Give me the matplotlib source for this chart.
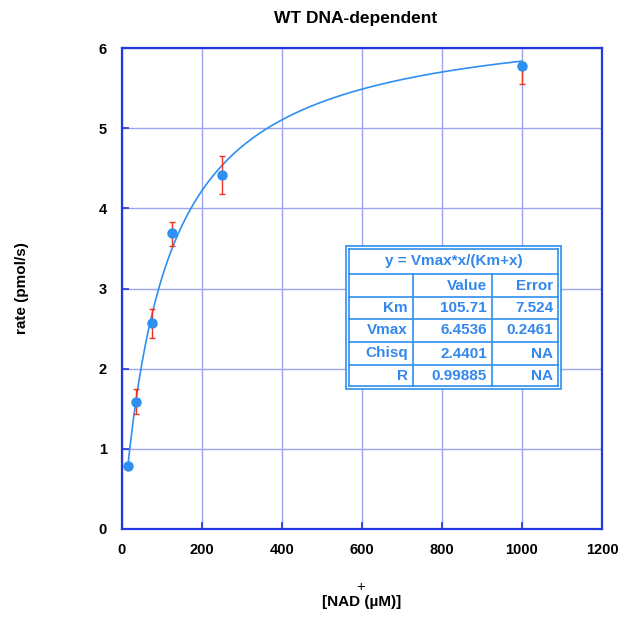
import numpy as np
import matplotlib.pyplot as plt
from matplotlib.lines import Line2D
from matplotlib.patches import Rectangle

plt.rcParams['font.family'] = ['Liberation Sans', 'DejaVu Sans']
plt.rcParams['font.weight'] = 'bold'

# measured rates
nad = [15, 35, 75, 125, 250, 1000]
rate = [0.79, 1.59, 2.57, 3.69, 4.42, 5.78]
err_lo = [0.0, 0.16, 0.19, 0.16, 0.24, 0.23]
err_hi = [0.0, 0.16, 0.18, 0.14, 0.23, 0.05]

# Michaelis-Menten fit
km, km_err = 105.71, 7.524
vmax, vmax_err = 6.4536, 0.2461
chisq = 2.4401
r_val = 0.99885

frame_col = '#2438e0'
grid_col = '#9ea4f0'
pt_col = '#2f8ff0'
txt_col = '#3388ee'

W = H = 618
fig = plt.figure(figsize=(6.18, 6.18), dpi=100)
ax = fig.add_axes([122 / W, 1 - 529 / H, 480 / W, 481 / H])

xs = np.linspace(nad[0], nad[-1], 400)
ax.plot(xs, vmax * xs / (km + xs), color=pt_col, lw=1.2, zorder=3)
ax.errorbar(nad, rate, yerr=[err_lo, err_hi], fmt='none', ecolor='#ee3322',
            elinewidth=1.0, capsize=2.5, capthick=1.0, zorder=4)
ax.plot(nad, rate, 'o', color=pt_col, ms=6.5, zorder=5)

ax.set_xlim(0, 1200)
ax.set_ylim(0, 6)
ax.set_xticks(np.arange(0, 1201, 200))
ax.set_yticks(np.arange(0, 7, 1))
ax.grid(True, color=grid_col, lw=1.0)
ax.set_axisbelow(True)
for s in ax.spines.values():
    s.set_color(frame_col)
    s.set_linewidth(1.6)
ax.tick_params(direction='in', color=frame_col, length=5, width=1.2,
               labelsize=10.5)
ax.tick_params(axis='x', pad=10)
ax.tick_params(axis='y', pad=11)
for lab in ax.get_xticklabels() + ax.get_yticklabels():
    lab.set_fontweight('bold')

fig.text(356 / W, 1 - 18 / H, 'WT DNA-dependent', ha='center',
         va='center', fontsize=12.5, fontweight='bold')
fig.text(22 / W, 1 - 288 / H, 'rate (pmol/s)', rotation=90, ha='center',
         va='center', fontsize=11, fontweight='bold')
fig.text(362 / W, 1 - 602 / H, '[NAD (\u00b5M)]', ha='center', va='center',
         fontsize=11, fontweight='bold')
fig.text(361 / W, 1 - 587 / H, '+', ha='center', va='center', fontsize=10.5,
         fontweight='normal')


# fit results table
def px(x, y):
    return x / W, 1 - y / H


def hline(x0, x1, y, lw=1.2):
    (a, b), (c, _) = px(x0, y), px(x1, y)
    fig.add_artist(Line2D([a, c], [b, b], color=pt_col, lw=lw, zorder=2))


def vline(x, y0, y1, lw=1.2):
    (a, b), (_, d) = px(x, y0), px(x, y1)
    fig.add_artist(Line2D([a, a], [b, d], color=pt_col, lw=lw, zorder=2))


x0, x1 = 346, 561
y0, y1 = 246, 389
bx, by = px(x0, y1)
fig.add_artist(Rectangle((bx, by), (x1 - x0) / W, (y1 - y0) / H,
                         facecolor='white', edgecolor=pt_col, lw=1.2, zorder=1))
ix0, ix1, iy0, iy1 = 349, 558, 249, 386
rows = [iy0, 274, 297, 319, 342, 365, iy1]
cols = [ix0, 413, 492, ix1]
for y in rows:
    hline(ix0, ix1, y)
vline(ix0, iy0, iy1)
vline(ix1, iy0, iy1)
for x in cols[1:3]:
    vline(x, rows[1], iy1)

tx, ty = px(0.5 * (ix0 + ix1), 0.5 * (rows[0] + rows[1]))
fig.text(tx, ty, 'y = Vmax*x/(Km+x)', ha='center', va='center',
         fontsize=11, fontweight='bold', color=txt_col, zorder=3)

cells = [
    ['', 'Value', 'Error'],
    ['Km', f'{km:.2f}', f'{km_err:.3f}'],
    ['Vmax', f'{vmax:.4f}', f'{vmax_err:.4f}'],
    ['Chisq', f'{chisq:.4f}', 'NA'],
    ['R', f'{r_val:.5f}', 'NA'],
]
for i, row in enumerate(cells):
    yc = 0.5 * (rows[i + 1] + rows[i + 2])
    for j, s in enumerate(row):
        tx, ty = px(cols[j + 1] - 5, yc)
        fig.text(tx, ty, s, ha='right', va='center', fontsize=11,
                 fontweight='bold', color=txt_col, zorder=3)

fig.savefig('out.png', dpi=100)
